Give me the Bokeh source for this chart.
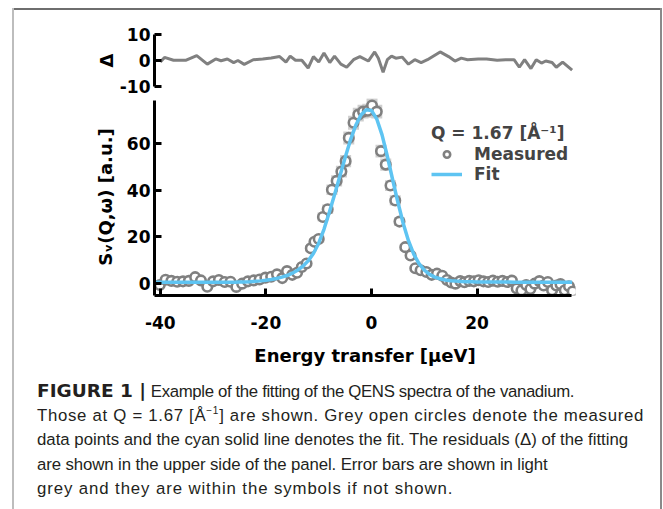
from bokeh.plotting import figure
from bokeh.models import Range1d, FixedTicker, Legend, LegendItem, Div
from bokeh.layouts import column, row
from bokeh.embed import file_html
from bokeh.resources import INLINE

# ---------------- data ----------------
meas_e = [-40.1, -39.0, -37.9, -36.8, -35.7, -34.6, -33.4, -32.3, -31.1, -30.0,
          -28.9, -27.8, -26.7, -25.6, -24.5, -23.4, -22.3, -21.2, -20.1, -19.0,
          -17.9, -16.9, -16.0, -15.0, -14.1, -13.2, -12.3, -11.5, -10.8, -10.0,
          -9.2, -8.3, -7.5, -6.6, -5.7, -4.9, -4.3, -3.4, -2.5, -1.6,
          -0.7, 0.1, 1.0, 1.8, 2.7, 3.6, 4.5, 5.3, 6.4, 7.4,
          8.3, 9.3, 10.4, 11.4, 12.4, 13.4, 14.3, 15.1, 15.9, 16.8,
          17.6, 18.5, 19.4, 20.3, 21.2, 22.1, 23.0, 23.9, 24.8, 25.7,
          26.6, 27.5, 28.4, 29.3, 30.1, 30.9, 31.8, 32.6, 33.4, 34.2,
          35.0, 35.8, 36.6, 37.4, 38.1]
meas_s = [-0.8, 1.5, 1.0, 0.6, 0.8, 1.0, 2.6, 1.2, -1.5, 0.8,
          1.4, 0.5, 0.6, -1.6, -0.2, 0.8, 1.2, 1.6, 2.4, 2.8,
          3.8, 2.2, 5.2, 3.6, 4.5, 7.0, 8.5, 15.0, 17.8, 19.0,
          28.5, 31.8, 40.2, 44.0, 48.0, 52.5, 62.5, 69.0, 72.5, 73.8,
          74.2, 76.4, 73.8, 56.8, 51.0, 42.0, 35.6, 26.5, 15.5, 11.9,
          6.4, 5.6, 4.8, 3.6, 4.1, 3.2, 1.4, 0.3, -0.2, 0.9,
          0.4, 1.0, 0.8, 1.3, 0.8, 0.5, 1.1, 0.6, 1.0, 0.5,
          1.1, -2.3, -3.1, -0.8, -2.5, -0.2, 0.9, -1.0, 0.5, -3.0,
          -1.0, -0.4, -3.0, -1.3, -3.6]
meas_err = [0.7, 0.7, 0.7, 0.7, 0.7, 0.7, 0.7, 0.7, 0.7, 0.7,
            0.7, 0.7, 0.7, 0.7, 0.7, 0.7, 0.7, 0.7, 0.7, 0.7,
            0.7, 0.7, 0.7, 0.7, 0.7, 1.0, 1.1, 1.4, 1.5, 1.6,
            1.9, 2.0, 2.3, 2.4, 2.5, 2.6, 2.8, 3.0, 3.0, 3.0,
            3.0, 3.1, 3.0, 2.7, 2.6, 2.3, 2.2, 1.9, 1.5, 1.3,
            1.0, 1.0, 0.9, 0.8, 0.7, 0.7, 0.7, 0.7, 0.7, 0.7,
            0.7, 0.7, 0.7, 0.7, 0.7, 0.7, 0.7, 0.7, 0.7, 0.7,
            0.7, 0.7, 0.7, 0.7, 0.7, 0.7, 0.7, 0.7, 0.7, 0.7,
            0.7, 0.7, 0.7, 0.7, 0.7]

fit_e = list(range(-41, 39))
fit_s = [0.4, 0.4, 0.4, 0.4, 0.4, 0.4, 0.4, 0.4, 0.4, 0.4,      # -41..-32
         0.4, 0.4, 0.4, 0.4, 0.45, 0.45, 0.5, 0.55, 0.65, 0.8,   # -31..-22
         1.0, 1.25, 1.6, 2.0, 2.6, 3.3, 4.3, 5.6, 7.3, 9.6,      # -21..-12
         12.8, 17.2, 23.2, 30.4, 38.0, 46.0, 54.0, 61.5, 67.8, 72.3,  # -11..-2
         74.6, 74.3, 70.6, 63.8, 54.6, 44.6, 34.8, 25.8, 18.3, 12.5,  # -1..8
         8.4, 5.6, 3.8, 2.6, 1.9, 1.4, 1.1, 0.9, 0.75, 0.65,     # 9..18
         0.6, 0.55, 0.55, 0.5, 0.5, 0.5, 0.5, 0.5, 0.45, 0.45,  # 19..28
         0.45, 0.45, 0.45, 0.4, 0.4, 0.4, 0.4, 0.4, 0.4, 0.4]    # 29..38

res_e = [-40.0, -39.2, -37.5, -35.1, -33.1, -31.1, -29.5, -28.5, -27.3, -26.1,
         -25.3, -24.1, -22.4, -20.6, -19.0, -17.4, -16.2, -15.4, -14.4, -13.2,
         -12.0, -11.0, -10.0, -9.0, -7.9, -7.0, -5.8, -4.7, -3.4, -2.2,
         -0.6, 0.6, 1.3, 2.2, 3.0, 3.8, 4.6, 5.8, 7.0, 8.2,
         9.4, 10.6, 13.0, 14.6, 15.8, 17.0, 18.2, 20.2, 21.8, 23.8,
         25.4, 27.0, 28.0, 29.0, 30.2, 31.2, 32.2, 33.0, 34.2, 35.0,
         36.2, 38.0]
res_d = [-0.6, 1.2, 0.1, 0.1, 1.9, -1.4, 0.6, -0.1, 0.6, -0.8,
         0.0, -1.5, 0.3, 0.6, 1.0, 1.5, -0.6, 1.7, 0.1, 0.1,
         -2.9, 1.5, -0.6, 2.9, -0.8, 1.7, -1.4, -2.6, 0.3, 1.5,
         -0.2, 3.3, 0.9, -4.5, 0.3, 1.7, 0.9, 1.3, -1.4, 0.3,
         -0.8, 0.3, 3.3, 1.5, -0.2, 0.9, 0.3, 0.6, 0.6, 0.1,
         0.3, 0.3, -2.6, 0.3, -3.1, 0.3, -1.0, -0.2, -0.8, -2.6,
         -0.6, -3.7]

x_ticks = [-40, -20, 0, 20]
x_tick_text = {-40: "-40", -20: "-20"}
y_ticks = [0, 20, 40, 60]
res_ticks = [-10, 0, 10]
res_tick_text = {-10: "-10"}
legend_title = "Q = 1.67 [Å⁻¹]"
legend_labels = ["Measured", "Fit"]
caption_bold = "FIGURE 1 |"
caption_lines = [
    "Example of the fitting of the QENS spectra of the vanadium.",
    "Those at Q = 1.67 [Å<sup style='font-size:10px;line-height:0;vertical-align:7px;'>−1</sup>] "
    "are shown. Grey open circles denote the measured",
    "data points and the cyan solid line denotes the fit. The residuals (Δ) of the fitting",
    "are shown in the upper side of the panel. Error bars are shown in light",
    "grey and they are within the symbols if not shown.",
]

# ---------------- layout constants ----------------
W = 663
LEFT_W, RIGHT_W = 14, 3
PW = W - LEFT_W - RIGHT_W
FONT = "DejaVu Sans"
X_RANGE = (-41.1, 38.64)
X_AXIS_END = 37.9
GREY = "#808080"
CYAN = "#5ec4f2"
LEFT_LINE = "#bdbdbd"
RIGHT_LINE = "#8a8a8a"


def style_axis(ax, fs="17px"):
    ax.axis_line_width = 3
    ax.axis_line_color = "black"
    ax.major_tick_line_width = 3
    ax.major_tick_line_color = "black"
    ax.major_tick_in = 7
    ax.major_tick_out = 0
    ax.minor_tick_line_color = None
    ax.major_label_text_font = FONT
    ax.major_label_text_font_style = "bold"
    ax.major_label_text_font_size = fs
    ax.major_label_text_color = "black"
    ax.axis_label_text_font = FONT
    ax.axis_label_text_font_style = "bold"
    ax.axis_label_text_font_size = "18px"
    ax.axis_label_text_color = "black"


def line_div(w, h, items):
    body = "".join(f"<div style='position:absolute;left:{l}px;top:{t}px;width:{ww}px;"
                   f"height:{hh}px;background:{c};'></div>" for (l, t, ww, hh, c) in items)
    return Div(width=w, height=h, margin=0,
               text=f"<div style='position:relative;width:{w}px;height:{max(h, 40)}px;'>{body}</div>")


# ---------------- top border ----------------
top_div = line_div(W, 10, [(12, 8, 650, 2, "#6e6e6e"), (12, 8, 2, 2, LEFT_LINE),
                           (660, 8, 2, 2, RIGHT_LINE)])

# ---------------- residual panel ----------------
hA = 88
pA = figure(width=PW, height=hA, output_backend="svg", toolbar_location=None,
            x_range=Range1d(*X_RANGE), y_range=Range1d(-10, 10), x_axis_type=None,
            min_border_left=154 - LEFT_W, min_border_right=PW - (575 - LEFT_W),
            min_border_top=24, min_border_bottom=12)
pA.outline_line_color = None
pA.grid.visible = False
pA.line(res_e, res_d, line_width=3, line_color=GREY)
ra = pA.yaxis[0]
style_axis(ra)
ra.ticker = FixedTicker(ticks=res_ticks)
ra.major_label_overrides = res_tick_text
ra.axis_label = "Δ"
ra.major_label_standoff = 4
ra.axis_label_standoff = 0

# ---------------- main panel ----------------
hB = 282
pB = figure(width=PW, height=hB, output_backend="svg", toolbar_location=None,
            x_range=Range1d(*X_RANGE), y_range=Range1d(-5.29, 79.44),
            min_border_left=154 - LEFT_W, min_border_right=PW - (575 - LEFT_W),
            min_border_top=0, min_border_bottom=85)
pB.outline_line_color = None
pB.grid.visible = False

lo = [s - e for s, e in zip(meas_s, meas_err)]
hi = [s + e for s, e in zip(meas_s, meas_err)]
pB.segment(x0=meas_e, y0=lo, x1=meas_e, y1=hi, line_width=11, line_color="#cfcfcf")
r_meas = pB.scatter(meas_e, meas_s, marker="circle", size=9.5, line_width=2.6,
                    line_color=GREY, fill_color="white")
r_fit = pB.line(fit_e, fit_s, line_width=3.5, line_color=CYAN)

xa = pB.xaxis[0]
style_axis(xa)
xa.ticker = FixedTicker(ticks=x_ticks)
xa.major_label_overrides = x_tick_text
xa.bounds = (X_RANGE[0], X_AXIS_END)
xa.axis_label = "Energy transfer [μeV]"
xa.major_label_standoff = 20
xa.axis_label_standoff = 13

ya = pB.yaxis[0]
style_axis(ya)
ya.ticker = FixedTicker(ticks=y_ticks)
ya.bounds = (-5.29, 78.6)
ya.axis_label = "Sᵥ(Q,ω) [a.u.]"
ya.major_label_standoff = 4
ya.axis_label_standoff = 8

legend = Legend(items=[LegendItem(label=legend_labels[0], renderers=[r_meas]),
                       LegendItem(label=legend_labels[1], renderers=[r_fit])],
                title=legend_title, location=(277, 111),
                glyph_width=31, glyph_height=16, label_standoff=12, spacing=0,
                padding=0, margin=0, border_line_color=None,
                background_fill_alpha=0.0)
legend.title_text_font = FONT
legend.title_text_font_style = "bold"
legend.title_text_font_size = "17px"
legend.title_standoff = 1
legend.label_text_font = FONT
legend.label_text_font_style = "bold"
legend.label_text_font_size = "17px"
pB.add_layout(legend)

left_div = line_div(LEFT_W, hA + hB, [(12, 0, 2, hA + hB, LEFT_LINE)])
right_div = line_div(RIGHT_W, hA + hB, [(0, 0, 2, hA + hB, RIGHT_LINE)])

# ---------------- caption ----------------
hC = 129
tops = [1.0, 25.5, 50, 74.5, 98.5]
spacing_px = [-0.35, 0.7, 0.0, -0.1, 0.9]
parts = ["<div style='position:relative;width:663px;height:129px;overflow:hidden;"
         "font-family:\"Liberation Sans\";font-size:16.8px;color:#231f20;'>",
         f"<div style='position:absolute;left:12px;top:0;width:2px;height:{hC}px;background:{LEFT_LINE};'></div>",
         f"<div style='position:absolute;left:660px;top:0;width:2px;height:{hC}px;background:{RIGHT_LINE};'></div>"]
for i, (t, ls, line) in enumerate(zip(tops, spacing_px, caption_lines)):
    text = f"<span style='letter-spacing:{ls}px;'>{line}</span>"
    if i == 0:
        text = ("<span style='font-family:\"DejaVu Sans\";font-weight:bold;font-size:18.5px;'>"
                + caption_bold + "</span> " + text)
    parts.append(f"<div style='position:absolute;left:37px;top:{t}px;line-height:19px;"
                 f"white-space:nowrap;'>{text}</div>")
parts.append("</div>")
cap_div = Div(width=W, height=hC, margin=0, text="".join(parts))

layout = column(top_div, row(left_div, column(pA, pB, spacing=0), right_div, spacing=0),
                cap_div, spacing=0)
open("out.html", "w").write(file_html(layout, INLINE))
